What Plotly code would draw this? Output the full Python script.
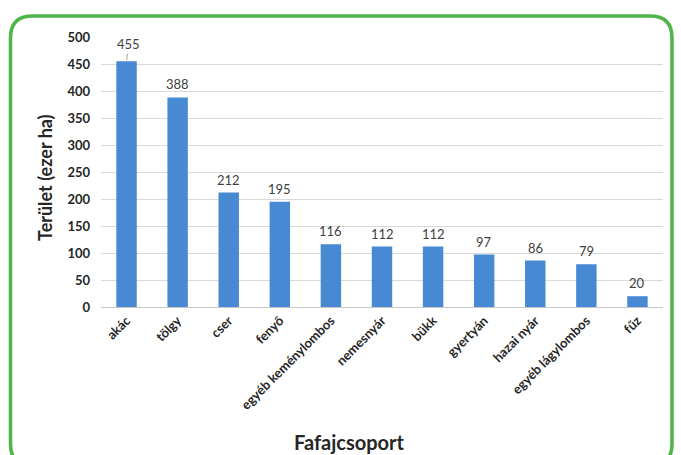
import plotly.graph_objects as go

categories = ["akác", "tölgy", "cser", "fenyő", "egyéb keménylombos", "nemesnyár",
              "bükk", "gyertyán", "hazai nyár", "egyéb lágylombos", "fűz"]
values = [455, 388, 212, 195, 116, 112, 112, 97, 86, 79, 20]
y_ticks = [0, 50, 100, 150, 200, 250, 300, 350, 400, 450, 500]

W, H = 681, 455
ML, MR, MT, MB = 101, 18, 37, 148
PW, PH = W - ML - MR, H - MT - MB

def px_to_paper(x, y):
    return (x - ML) / PW, (H - MB - y) / PH

fig = go.Figure()
fig.add_trace(go.Bar(
    x=categories, y=values,
    marker=dict(color="#4889D3", line=dict(width=0)),
    width=0.4,
    hoverinfo="x+y",
))

label_font = dict(size=13, color="#404040", family="Lato")
annotations = []
for i, (c, v) in enumerate(zip(categories, values)):
    if i == 0:
        annotations.append(dict(x=c, y=v, xref="x", yref="y", text=str(v),
                                showarrow=True, arrowhead=0, arrowwidth=1,
                                arrowcolor="#B0A080", ax=2, ay=-17, standoff=1,
                                font=label_font))
    else:
        annotations.append(dict(x=c, y=v, xref="x", yref="y", text=str(v),
                                showarrow=False, yshift=13, font=label_font))

# axis titles
tx, ty = px_to_paper(45, 178)
annotations.append(dict(x=tx, y=ty, xref="paper", yref="paper", text="<b>Terület (ezer ha)</b>",
                        textangle=-90, showarrow=False, xanchor="center", yanchor="middle",
                        font=dict(size=18, color="#262626", family="Lato")))
tx, ty = px_to_paper(349, 442)
annotations.append(dict(x=tx, y=ty, xref="paper", yref="paper", text="<b>Fafajcsoport</b>",
                        showarrow=False, xanchor="center", yanchor="middle",
                        font=dict(size=20, color="#262626", family="Lato")))

# rounded green frame
x0, y0 = px_to_paper(10.5, 16)
x1, y1 = px_to_paper(672, 466)
rx, ry = 22 / PW, 22 / PH
path = (f"M {x0+rx},{y0} L {x1-rx},{y0} Q {x1},{y0} {x1},{y0-ry} "
        f"L {x1},{y1+ry} Q {x1},{y1} {x1-rx},{y1} L {x0+rx},{y1} "
        f"Q {x0},{y1} {x0},{y1+ry} L {x0},{y0-ry} Q {x0},{y0} {x0+rx},{y0} Z")

fig.update_layout(
    width=W, height=H,
    margin=dict(l=ML, r=MR, t=MT, b=MB),
    paper_bgcolor="white", plot_bgcolor="white",
    showlegend=False,
    bargap=0.6,
    annotations=annotations,
    shapes=[dict(type="path", path=path, xref="paper", yref="paper",
                 line=dict(color="#4DB549", width=3.5), layer="above")],
    font=dict(family="Lato", color="#404040"),
)
fig.update_xaxes(
    tickangle=-45, tickfont=dict(size=13, color="#262626", family="Lato"),
    tickvals=categories, ticktext=[f"<b>{c}</b>" for c in categories],
    showline=True, linecolor="#C8C8C8", linewidth=1, showgrid=False, ticks="",
)
fig.update_yaxes(
    range=[0, 500], tickvals=y_ticks, ticktext=[f"<b>{t}</b>" for t in y_ticks],
    tickfont=dict(size=13, color="#262626", family="Lato"),
    showgrid=True, gridcolor="#D9D9D9", gridwidth=1, zeroline=False,
    ticklabelstandoff=10,
)

fig.write_html("out.html")
